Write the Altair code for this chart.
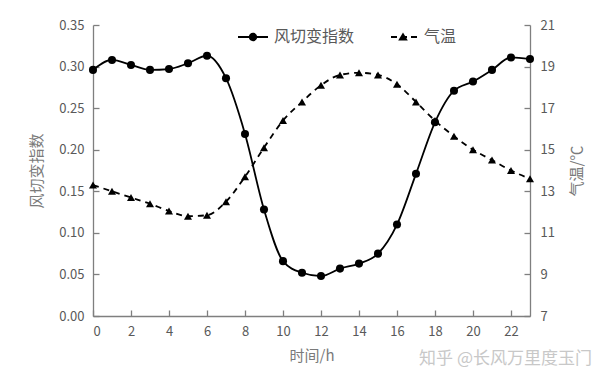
import altair as alt
import pandas as pd

hours = list(range(24))
shear = [0.296, 0.308, 0.302, 0.296, 0.297, 0.304, 0.313, 0.286, 0.219, 0.128,
         0.066, 0.052, 0.048, 0.057, 0.063, 0.075, 0.110, 0.171, 0.233, 0.271,
         0.282, 0.296, 0.311, 0.309]
temp = [13.3, 13.0, 12.7, 12.4, 12.05, 11.8, 11.85, 12.5, 13.7, 15.1,
        16.4, 17.3, 18.1, 18.6, 18.7, 18.6, 18.15, 17.3, 16.4, 15.65,
        15.0, 14.5, 14.0, 13.6]
series_names = ["风切变指数", "气温"]
x_ticks = list(range(0, 23, 2))
left_ticks = [0, 0.05, 0.10, 0.15, 0.20, 0.25, 0.30, 0.35]
right_ticks = [7, 9, 11, 13, 15, 17, 19, 21]

df = pd.DataFrame({"hour": hours, "shear": shear, "temp": temp})
legend_df = pd.DataFrame({"series": series_names, "series_line": series_names})

FONT = "Noto Sans CJK SC"
GREY = "#595959"
TGREY = "#7a7a7a"
AX = "#7f7f7f"
INWARD = {"expr": "-6"}

xenc = alt.X("hour:Q", scale=alt.Scale(domain=[0, 23], nice=False),
             axis=alt.Axis(values=x_ticks, title="时间/h", tickSize=INWARD,
                           labelPadding=15, titlePadding=10, grid=False,
                           labelOverlap=False, tickCount=12))
yleft = alt.Y("shear:Q", scale=alt.Scale(domain=[0, 0.35], nice=False),
              axis=alt.Axis(values=left_ticks, format=".2f", title="风切变指数",
                            tickSize=INWARD, labelPadding=15, titlePadding=14, grid=False,
                            orient="left", labelOverlap=False))
yright = alt.Y("temp:Q", scale=alt.Scale(domain=[7, 21], nice=False),
               axis=alt.Axis(values=right_ticks, title="气温/℃", tickSize=INWARD,
                             labelPadding=16, titlePadding=30, grid=False, orient="right",
                             titleAngle=270, labelOverlap=False))

base = alt.Chart(df)

shear_line = base.mark_line(color="black", strokeWidth=1.8, interpolate="monotone").encode(
    x=xenc, y=yleft)
shear_pts = base.mark_point(filled=True, color="black", size=65, opacity=1, shape="circle").encode(
    x=xenc, y=yleft)

temp_line = base.mark_line(color="black", strokeWidth=1.8, strokeDash=[6, 5], interpolate="monotone").encode(
    x=xenc, y=yright)
temp_pts = base.mark_point(filled=True, color="black", size=65, opacity=1, shape="triangle-up").encode(
    x=xenc, y=yright)

path_circle = "M0.28,0A0.28,0.28 0 1,1 -0.28,0A0.28,0.28 0 1,1 0.28,0Z"
path_tri = "M0,-0.3L0.32,0.24L-0.32,0.24Z"

LEG = dict(title=None, orient="none", direction="horizontal", legendX=144, legendY=-4,
           symbolSize=900, labelOffset=5, columnPadding=32, labelFontSize=16,
           labelColor=GREY, labelFont=FONT, symbolOpacity=1)

legend_shapes = alt.Chart(legend_df).transform_filter("false").mark_point(
    filled=True, color="black", opacity=1).encode(
    shape=alt.Shape("series:N",
                    scale=alt.Scale(domain=series_names, range=[path_circle, path_tri]),
                    legend=alt.Legend(symbolFillColor="black", **LEG))
)
legend_lines = alt.Chart(legend_df).transform_filter("false").mark_line(
    color="black", strokeWidth=1.8).encode(
    strokeDash=alt.StrokeDash("series_line:N",
                              scale=alt.Scale(domain=series_names, range=[[1, 0], [6, 4]]),
                              legend=alt.Legend(symbolType="stroke", symbolStrokeColor="black",
                                                symbolStrokeWidth=1.8, labelOpacity=0, **LEG))
)

left = alt.layer(shear_line, shear_pts)
right = alt.layer(temp_line, temp_pts)

chart = alt.layer(left, right, legend_lines, legend_shapes).resolve_scale(
    y="independent", shape="independent", strokeDash="independent").properties(
    width=437, height=291,
    title=alt.TitleParams("知乎 @长风万里度玉门", orient="bottom", anchor="end", frame="group",
                          color="#c8c8c8", fontSize=17, font=FONT, fontWeight="normal",
                          offset=-12, dx=62),
    padding={"left": 93, "top": 25, "right": 70, "bottom": 57},
    autosize=alt.AutoSizeParams(type="none"),
).configure_view(stroke=None).configure_axis(
    domainColor=AX, tickColor=AX, domainWidth=1.3, tickWidth=1.3,
    labelColor=GREY, labelFont=FONT, labelFontSize=13,
    titleColor=TGREY, titleFont=FONT, titleFontSize=15, titleFontWeight="normal",
)

chart.save("out.html", embed_options={"renderer": "svg", "actions": False})
